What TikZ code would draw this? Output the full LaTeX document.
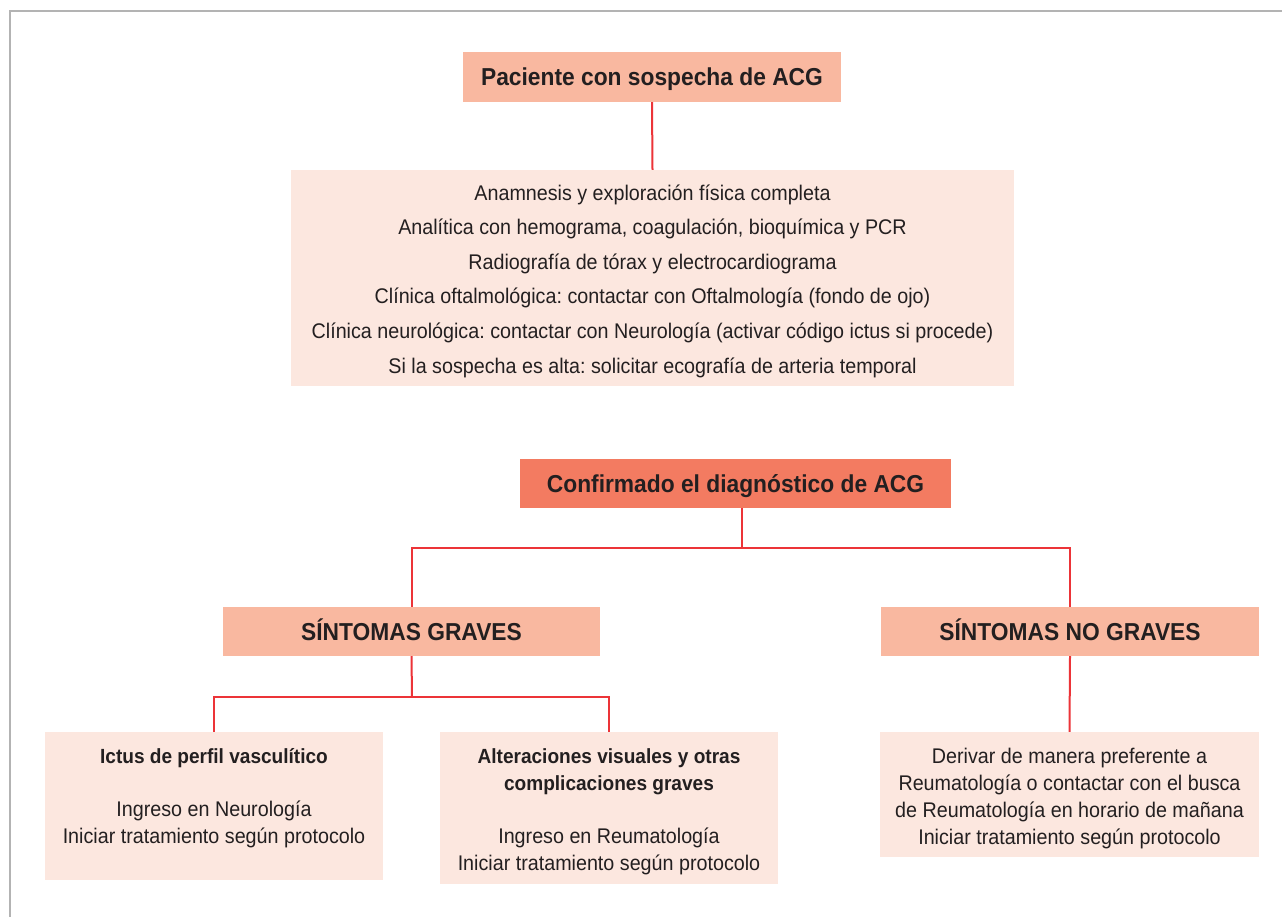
\documentclass[tikz,border=0pt]{standalone}
\usepackage{fontspec}
\setmainfont{Liberation Sans}[FakeStretch=0.93]
\frenchspacing
\definecolor{salmon}{RGB}{249,184,160}
\definecolor{darksalmon}{RGB}{243,123,97}
\definecolor{lightsalmon}{RGB}{252,231,223}
\definecolor{linered}{RGB}{236,52,56}
\definecolor{framegray}{RGB}{179,179,179}
\definecolor{txt}{RGB}{35,31,32}
\newcommand{\subtitle}[1]{\textbf{\fontsize{20.5}{26.7}\selectfont #1}}
\begin{document}
\begin{tikzpicture}[x=1pt,y=-1pt,
  headbox/.style={fill=salmon, draw=none, inner sep=0pt, text=txt, text height=17.6pt, text depth=0pt, font=\fontsize{24.5}{28}\selectfont\bfseries},
  confbox/.style={headbox, fill=darksalmon},
  softbox/.style={fill=lightsalmon, draw=none, inner sep=0pt},
  plain/.style={inner sep=0pt, text=txt, align=center, font=\fontsize{21.2}{26.7}\selectfont},
  bigtext/.style={plain, font=\fontsize{21.2}{34.6}\selectfont},
  conn/.style={draw=linered, line width=2pt}
]
\useasboundingbox (0,0) rectangle (1282,917);
\fill[white] (0,0) rectangle (1282,917);
\draw[framegray, line width=2.2pt] (10,917) -- (10,11) -- (1282,11);

\node[headbox, minimum width=378, minimum height=50] (pac) at (652,77) {Paciente con sospecha de ACG};

\node[softbox, minimum width=723, minimum height=216] (eval) at (652.5,278) {};
\node[bigtext] (evaltxt) at (652.5,281) {Anamnesis y exploración física completa\\
Analítica con hemograma, coagulación, bioquímica y PCR\\
Radiografía de tórax y electrocardiograma\\
Clínica oftalmológica: contactar con Oftalmología (fondo de ojo)\\
Clínica neurológica: contactar con Neurología (activar código ictus si procede)\\
Si la sospecha es alta: solicitar ecografía de arteria temporal};

\node[confbox, minimum width=431, minimum height=49] (conf) at (735.5,483.5) {Confirmado el diagnóstico de ACG};

\node[headbox, minimum width=377, minimum height=49] (grav) at (411.5,631.5) {SÍNTOMAS GRAVES};
\node[headbox, minimum width=378, minimum height=49] (nograv) at (1070,631.5) {SÍNTOMAS NO GRAVES};

\node[softbox, minimum width=338, minimum height=148] (ictus) at (214,806) {};
\node[plain] (ictustxt) at (214,798) {\subtitle{Ictus de perfil vasculítico}\\[26.7pt]
Ingreso en Neurología\\
Iniciar tratamiento según protocolo};

\node[softbox, minimum width=338, minimum height=152] (alt) at (609,808) {};
\node[plain] (alttxt) at (609,812) {\subtitle{Alteraciones visuales y otras}\\
\subtitle{complicaciones graves}\\[26.7pt]
Ingreso en Reumatología\\
Iniciar tratamiento según protocolo};

\node[softbox, minimum width=379, minimum height=125] (deriv) at (1069.5,794.5) {};
\node[plain] (derivtxt) at (1069.5,798.5) {Derivar de manera preferente a\\
Reumatología o contactar con el busca\\
de Reumatología en horario de mañana\\
Iniciar tratamiento según protocolo};

\coordinate (cj) at (742,548);
\coordinate (gj) at (412,697);

\draw[conn] (conf.south -| cj) -- (cj);
\draw[conn] (pac.south) -- (eval.north);
\draw[conn] (grav.north) |- (cj) -| (nograv.north);
\draw[conn] (grav.south) -- (gj);
\draw[conn] (ictus.north) |- (gj) -| (alt.north);
\draw[conn] (nograv.south) -- (deriv.north);
\end{tikzpicture}
\end{document}
